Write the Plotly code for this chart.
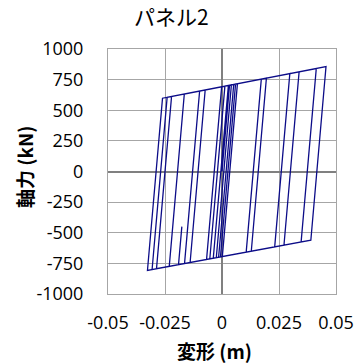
import plotly.graph_objects as go

# Hysteresis path vertices (deformation m, axial force kN)
deform_m = [
    0.0, 0.003305, 0.005135, -0.001487, -0.005349, 0.001270, 0.006763, 0.000139,
    -0.003825, 0.002796, 0.017240, 0.010608, -0.006772, -0.000154, 0.019477,
    0.012845, -0.013989, -0.007376, 0.029751, 0.023110, -0.019071, -0.017613,
    -0.019071, -0.023136, -0.016530, 0.033819, 0.027176, -0.032691, -0.026091,
    0.045618, 0.038966, -0.028726, -0.022124, 0.041346, 0.034697, -0.030658,
    -0.024057, 0.004118, -0.002503, -0.016428, -0.009817, 0.005949, -0.000674,
]
axial_kN = [
    0.0, 703.9, 710.4, -700.1, -713.4, 696.6, 716.3, -694.5,
    -708.1, 702.0, 753.9, -658.5, -718.3, 691.4, 762.0,
    -650.9, -743.1, 665.5, 798.9, -615.6, -760.5, -450.0,
    -760.5, -774.5, 632.6, 813.5, -601.6, -807.4, 598.3,
    855.9, -561.1, -793.7, 612.5, 840.5, -575.7, -800.4,
    605.6, 706.8, -703.6, -751.5, 656.7, 713.4, -697.3,
]

x_tickvals = [-0.05, -0.025, 0, 0.025, 0.05]
x_ticktext = ["-0.05", "-0.025", "0", "0.025", "0.05"]
y_tickvals = [1000, 750, 500, 250, 0, -250, -500, -750, -1000]
y_ticktext = ["1000", "750", "500", "250", "0", "-250", "-500", "-750", "-1000"]

title_text = "パネル2"
x_title = "<b>変形 (m)</b>"
y_title = "<b>軸力 (kN)</b>"

W, H = 355, 363
PL, PR, PT, PB = 108, 336, 49, 294          # plot area in window pixels
L, T, R, B = PL, PT, W - PR, H - PB
pw, ph = PR - PL, PB - PT


def px(x):
    return (x - PL) / pw


def py(y):
    return (PB - y) / ph


fig = go.Figure()
fig.add_trace(go.Scatter(
    x=deform_m, y=axial_kN, mode="lines",
    line=dict(color="#0c0c88", width=1.3),
    showlegend=False, hoverinfo="skip",
))

cjk = "Noto Sans CJK JP, sans-serif"
fig.update_layout(
    width=W, height=H,
    margin=dict(l=L, r=R, t=T, b=B, autoexpand=False),
    paper_bgcolor="white", plot_bgcolor="white",
    font=dict(family="Open Sans, Noto Sans CJK JP, sans-serif", size=18, color="#000000"),
    hovermode=False,
    annotations=[
        dict(text=title_text, xref="paper", yref="paper",
             x=px(171), y=py(16), xanchor="center", yanchor="middle",
             showarrow=False, font=dict(family=cjk, size=21, color="#000000")),
        dict(text=x_title, xref="paper", yref="paper",
             x=px(214), y=py(350), xanchor="center", yanchor="middle",
             showarrow=False, font=dict(family=cjk, size=19, color="#000000")),
        dict(text=y_title, xref="paper", yref="paper", textangle=-90,
             x=px(24), y=py(167), xanchor="center", yanchor="middle",
             showarrow=False, font=dict(family=cjk, size=19, color="#000000")),
    ],
)

fig.update_xaxes(
    range=[-0.05, 0.05], tickvals=x_tickvals, ticktext=x_ticktext,
    showgrid=True, gridcolor="#a6a6a6", gridwidth=1,
    zeroline=True, zerolinecolor="#808080", zerolinewidth=2,
    showline=True, linecolor="#a6a6a6", linewidth=1, mirror=True,
    ticks="", ticklabelstandoff=12, automargin=False,
)
fig.update_yaxes(
    range=[-1000, 1000], tickvals=y_tickvals, ticktext=y_ticktext,
    showgrid=True, gridcolor="#a6a6a6", gridwidth=1,
    zeroline=True, zerolinecolor="#808080", zerolinewidth=2,
    showline=True, linecolor="#a6a6a6", linewidth=1, mirror=True,
    ticks="", ticklabelstandoff=20, automargin=False,
)

fig.write_html(
    "out.html",
    config={"displayModeBar": False, "staticPlot": True},
    post_script="document.body.style.margin='0';document.body.style.overflow='hidden';",
)
